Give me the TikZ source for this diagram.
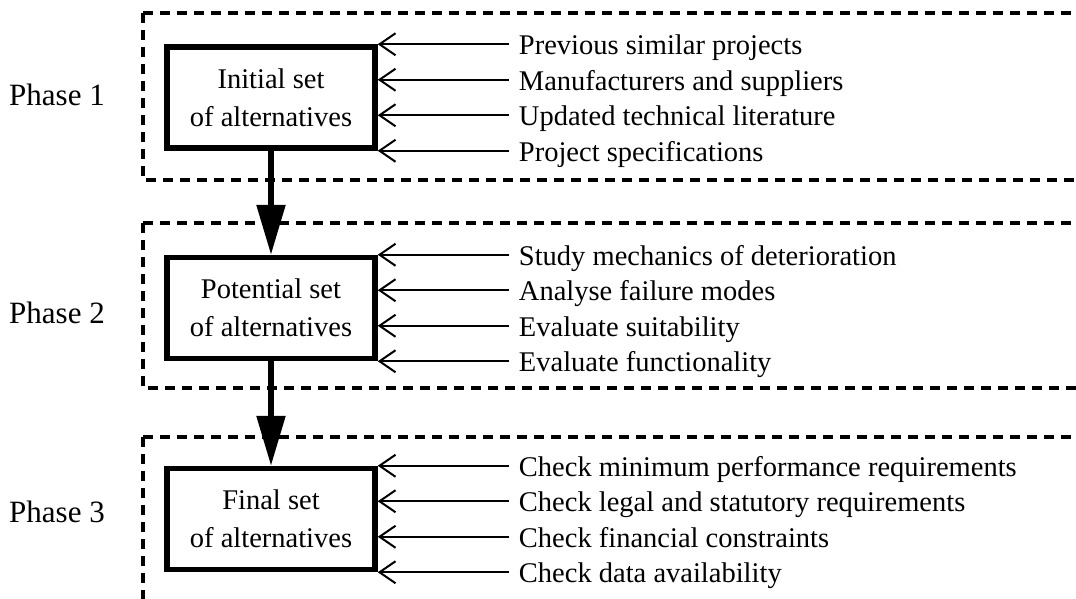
\documentclass[tikz,border=0pt]{standalone}
\usepackage{fontspec}
\setmainfont{Liberation Serif}
\usetikzlibrary{arrows.meta,calc}

% one input line: box, fraction along its right side, name, text
\newcommand\feedline[4]{%
  \coordinate (#3e) at ($(#1.north east)!#2!(#1.south east)$);
  \coordinate (#3s) at ($(#3e)+(131,0)$);
  \node[item,anchor=base west] (#3) at ($(#3e)+(141,10.5)$) {#4};
  \draw[input] (#3s) -- (#3e);}

\begin{document}
\begin{tikzpicture}[x=1pt,y=-1pt,
  every node/.style={font=\fontsize{28.5}{38}\selectfont},
  stage/.style={draw,line width=5.5pt,minimum width=208pt,minimum height=101pt,
    align=center,inner sep=0pt},
  item/.style={inner sep=0pt},
  phaselabel/.style={inner sep=0pt,anchor=base west,font=\fontsize{31}{36}\selectfont},
  frame/.style={line width=3.2pt,dash pattern=on 10pt off 7pt},
  input/.style={line width=2pt,-{Straight Barb[length=16pt,width=22pt]}},
  flow/.style={line width=5.5pt,-{Triangle[length=50pt,width=28pt]}}]
  \useasboundingbox (0,0) rectangle (1076,598);
  \clip (0,0) rectangle (1076,598);

  % dashed phase frames, open to the right; dashes start at the top-left corner
  \draw[frame] (143,13) -- (1090,13);
  \draw[frame] (143,13) -- (143,180) -- (1090,180);
  \draw[frame] (143,223) -- (1090,223);
  \draw[frame] (143,223) -- (143,388) -- (1090,388);
  \draw[frame] (143,437) -- (1090,437);
  \draw[frame] (143,437) -- (143,620);

  % phase labels
  \node[phaselabel] (p1) at (9,105) {Phase 1};
  \node[phaselabel] (p2) at (9,323) {Phase 2};
  \node[phaselabel] (p3) at (9,522) {Phase 3};

  % sets of alternatives
  \node[stage] (b1) at (271,97.5) {Initial set\\of alternatives};
  \node[stage] (b2) at (271,308) {Potential set\\of alternatives};
  \node[stage] (b3) at (271,519) {Final set\\of alternatives};

  \draw[flow] (b1.south) -- (b2.north);
  \draw[flow] (b2.south) -- (b3.north);

  % inputs to each set
  \feedline{b1}{0}{i11}{Previous similar projects}
  \feedline{b1}{0.3333}{i12}{Manufacturers and suppliers}
  \feedline{b1}{0.6667}{i13}{Updated technical literature}
  \feedline{b1}{1}{i14}{Project specifications}

  \feedline{b2}{0}{i21}{Study mechanics of deterioration}
  \feedline{b2}{0.3333}{i22}{Analyse failure modes}
  \feedline{b2}{0.6667}{i23}{Evaluate suitability}
  \feedline{b2}{1}{i24}{Evaluate functionality}

  \feedline{b3}{0}{i31}{Check minimum performance requirements}
  \feedline{b3}{0.3333}{i32}{Check legal and statutory requirements}
  \feedline{b3}{0.6667}{i33}{Check financial constraints}
  \feedline{b3}{1}{i34}{Check data availability}
\end{tikzpicture}
\end{document}
